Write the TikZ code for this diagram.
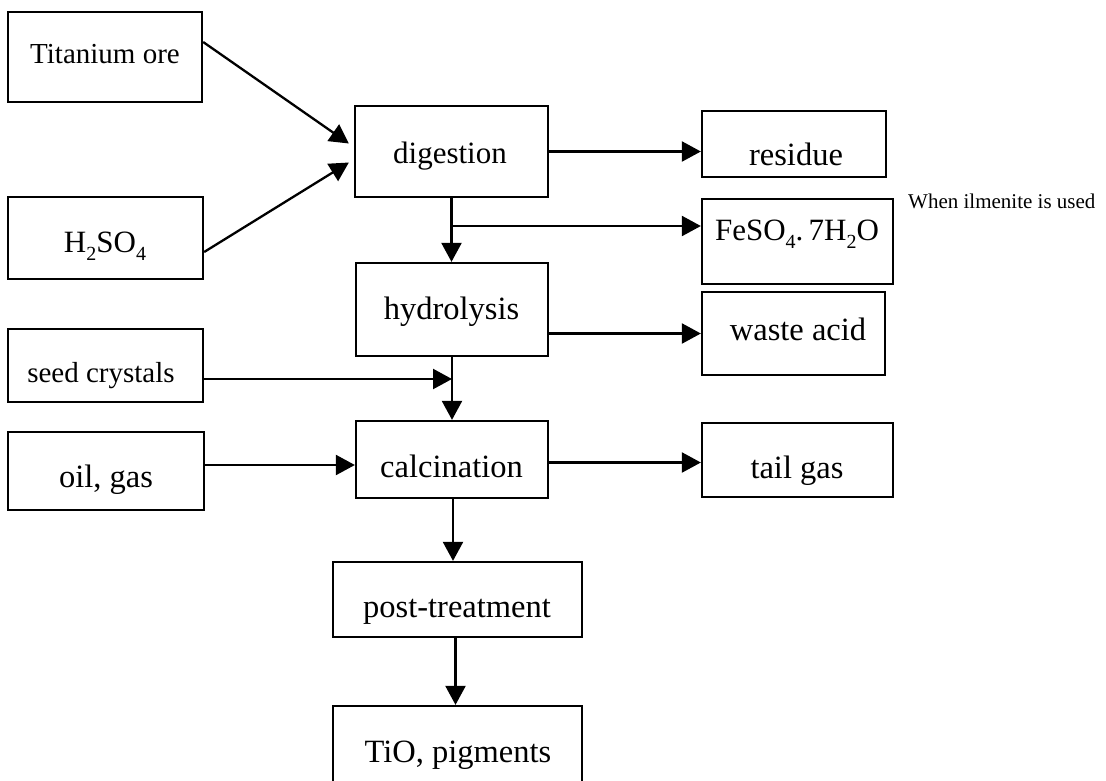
\documentclass[tikz,border=0pt]{standalone}
\usepackage{fontspec}
\setmainfont{Liberation Serif}
\usetikzlibrary{arrows.meta,calc}
\tikzset{
  box/.style={draw, line width=2.3pt, rectangle, inner sep=0pt},
  lbl/.style={anchor=base, inner sep=0pt, font=\fontsize{31}{32}\selectfont},
  small/.style={font=\fontsize{29}{30}\selectfont},
  big/.style={font=\fontsize{32.5}{34}\selectfont},
  note/.style={anchor=base west, inner sep=0pt, font=\fontsize{21}{22}\selectfont},
  flow/.style={line width=2.3pt, -{Triangle[length=19pt,width=20pt]}}
}
\newcommand{\sub}[1]{\raisebox{-0.26em}{\fontsize{20}{20}\selectfont #1}}
\begin{document}
\begin{tikzpicture}[x=1pt,y=-1pt]
\clip (0,0) rectangle (1106,780);
\fill[white] (0,0) rectangle (1106,780);
% boxes
\node[box, minimum width=194pt, minimum height=90pt] (ore) at (105,57) {};
\node[box, minimum width=195pt, minimum height=82pt] (acid) at (105.5,238) {};
\node[box, minimum width=193pt, minimum height=91pt] (dig) at (451.5,151.5) {};
\node[box, minimum width=184pt, minimum height=66pt] (res) at (794,144) {};
\node[box, minimum width=191pt, minimum height=85pt] (fe) at (797.5,241.5) {};
\node[box, minimum width=192pt, minimum height=93pt] (hyd) at (452,309.5) {};
\node[box, minimum width=183pt, minimum height=83pt] (waste) at (793.5,333.5) {};
\node[box, minimum width=195pt, minimum height=73pt] (seed) at (105.5,365.5) {};
\node[box, minimum width=192pt, minimum height=77pt] (calc) at (452,459.5) {};
\node[box, minimum width=196pt, minimum height=78pt] (oil) at (106,471) {};
\node[box, minimum width=191pt, minimum height=74pt] (tail) at (797.5,460) {};
\node[box, minimum width=249pt, minimum height=75pt] (post) at (457.5,599.5) {};
\node[box, minimum width=249pt, minimum height=94pt] (tio) at (457.5,753) {};
% texts
\node[lbl, small] (t-ore) at (105,63) {Titanium ore};
\node[lbl] (t-acid) at (105,252) {H\sub{2}SO\sub{4}};
\node[lbl] (t-dig) at (450,163) {digestion};
\node[lbl, big] (t-res) at (796,165) {residue};
\node[lbl] (t-fe) at (797,240) {FeSO\sub{4}.\,7H\sub{2}O};
\node[note] (t-note) at (908,208) {When ilmenite is used};
\node[lbl, big] (t-hyd) at (451.5,319) {hydrolysis};
\node[lbl, big] (t-waste) at (798,340) {waste acid};
\node[lbl, small] (t-seed) at (101,382) {seed crystals};
\node[lbl, big] (t-calc) at (451.5,477) {calcination};
\node[lbl, big] (t-oil) at (106,487) {oil, gas};
\node[lbl, big] (t-tail) at (797,478) {tail gas};
\node[lbl, big] (t-post) at (457,617) {post-treatment};
\node[lbl, big] (t-tio) at (458,762) {TiO, pigments};
% junctions
\coordinate (br) at (451,226);
\coordinate (sj) at (452,379);
% connectors
\draw[flow] ([yshift=15pt]ore.east) -- ([xshift=-5pt,yshift=8pt]dig.west);
\draw[flow] ([yshift=-14pt]acid.east) -- ([xshift=-5pt,yshift=-11pt]dig.west);
\draw[flow] (dig.east) -- (dig.east -| res.west);
\draw[flow] (dig.south) -- (dig.south |- hyd.north);
\draw[flow] (br) -- (br -| fe.west);
\draw[flow] (waste.west -| hyd.east) -- (waste.west);
\draw[flow] (seed.east |- sj) -- (sj);
\draw[flow] (hyd.south) -- (hyd.south |- calc.north);
\draw[flow] ([yshift=6pt]oil.east) -- ([yshift=6pt]oil.east -| calc.west);
\draw[flow] ([yshift=-3pt]calc.east) -- ([yshift=-3pt]calc.east -| tail.west);
\draw[flow] ([xshift=1pt]calc.south) -- ([xshift=1pt]calc.south |- post.north);
\draw[flow] ([xshift=-2pt]post.south) -- ([xshift=-2pt]post.south |- tio.north);
\end{tikzpicture}
\end{document}
